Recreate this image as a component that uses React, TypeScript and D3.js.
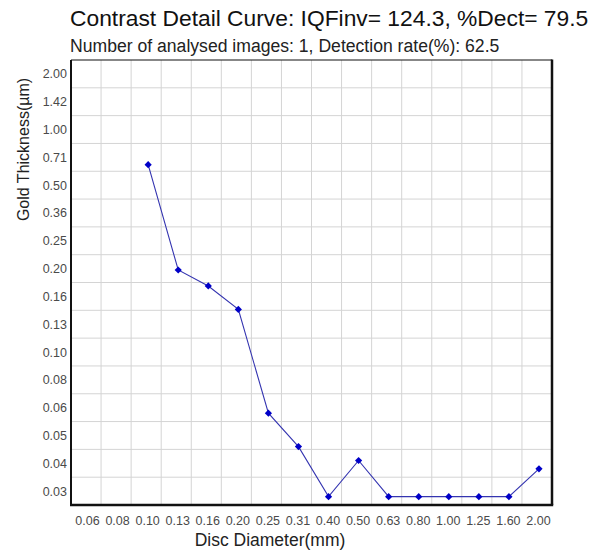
import React from "react";
import * as d3 from "d3";

const xLabels = ["0.06","0.08","0.10","0.13","0.16","0.20","0.25","0.31","0.40","0.50","0.63","0.80","1.00","1.25","1.60","2.00"];
const yLabels = ["2.00","1.42","1.00","0.71","0.50","0.36","0.25","0.20","0.16","0.13","0.10","0.08","0.06","0.05","0.04","0.03"];
const diameters = ["0.10","0.13","0.16","0.20","0.25","0.31","0.40","0.50","0.63","0.80","1.00","1.25","1.60","2.00"];
const thickness = [0.655,0.198,0.175,0.146,0.058,0.046,0.028,0.041,0.028,0.028,0.028,0.028,0.028,0.038];

const titleText = "Contrast Detail Curve: IQFinv= 124.3, %Dect= 79.5";
const subtitleText = "Number of analysed images: 1, Detection rate(%): 62.5";

export default function App() {
  const W = 600, H = 552;
  const left = 71, right = 552, top = 60, bottom = 505;
  const x = d3.scaleBand<string>().domain(xLabels).range([left, right]);
  const y = d3.scaleBand<string>().domain(yLabels).range([top, bottom]);
  const bw = x.bandwidth(), bh = y.bandwidth();
  const yVal = d3.scaleLinear()
    .domain(yLabels.map(Number))
    .range(yLabels.map(l => (y(l) as number) + bh / 2));
  const pts = diameters.map((d, i) => [(x(d) as number) + bw / 2 + 2, yVal(thickness[i])] as [number, number]);
  const line = d3.line()(pts) || "";
  const font = "'Liberation Sans', Arial, sans-serif";
  return (
    <svg width={W} height={H} style={{ position: "absolute", left: 0, top: 0, background: "#fff" }} fontFamily={font}>
      <rect x={0} y={0} width={W} height={H} fill="#fff" />
      <text x={70} y={26} fontSize={22.8} fill="#111">{titleText}</text>
      <text x={70} y={52} fontSize={17.6} fill="#222">{subtitleText}</text>
      {/* grid */}
      {xLabels.slice(1).map(l => (
        <line key={"gx" + l} x1={x(l)} x2={x(l)} y1={top} y2={bottom} stroke="#d4d4d4" strokeWidth={1} />
      ))}
      {yLabels.slice(1).map(l => (
        <line key={"gy" + l} x1={left} x2={right} y1={y(l)} y2={y(l)} stroke="#d4d4d4" strokeWidth={1} />
      ))}
      {/* frame */}
      <line x1={left} x2={right} y1={top} y2={top} stroke="#111" strokeWidth={1.2} />
      <line x1={left} x2={left} y1={top} y2={bottom} stroke="#111" strokeWidth={2} />
      <line x1={left - 1} x2={right + 1.2} y1={bottom} y2={bottom} stroke="#111" strokeWidth={2.5} />
      <line x1={right} x2={right} y1={top - 0.5} y2={bottom} stroke="#111" strokeWidth={2.5} />
      {/* y tick labels */}
      {yLabels.map(l => (
        <text key={"yl" + l} x={67} y={(y(l) as number) + bh / 2 + 4.5} fontSize={12.5} textAnchor="end" fill="#4a4a4a">{l}</text>
      ))}
      {/* x tick labels */}
      {xLabels.map(l => (
        <text key={"xl" + l} x={(x(l) as number) + bw / 2 + 1.5} y={525} fontSize={12.5} textAnchor="middle" fill="#4a4a4a">{l}</text>
      ))}
      <text x={270} y={546} fontSize={17.5} textAnchor="middle" fill="#222">Disc Diameter(mm)</text>
      <text transform={`translate(29,149.5) rotate(-90)`} fontSize={16} textAnchor="middle" fill="#222">Gold Thickness(µm)</text>
      {/* series */}
      <path d={line} fill="none" stroke="#3434b0" strokeWidth={1.1} />
      {pts.map((p, i) => (
        <path key={"m" + i} d={d3.symbol().type(d3.symbolSquare).size(26)() || ""} transform={`translate(${p[0]},${p[1]}) rotate(45)`} fill="#0000c8" />
      ))}
    </svg>
  );
}
